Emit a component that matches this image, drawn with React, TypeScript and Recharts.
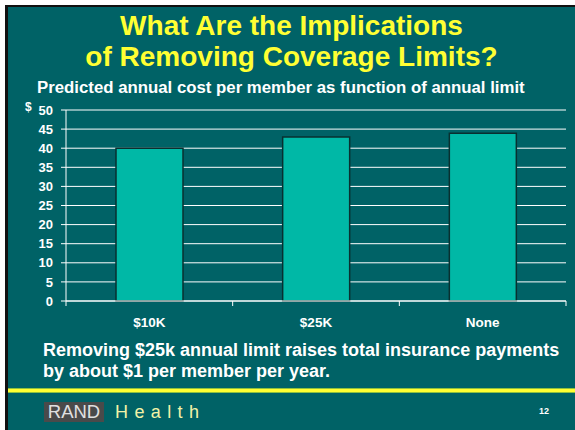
import { BarChart, Bar, XAxis, YAxis, CartesianGrid } from "recharts";

const categories = ["$10K", "$25K", "None"];
const costPerMember = [40, 42.9, 43.9];
const yTicks = [0, 5, 10, 15, 20, 25, 30, 35, 40, 45, 50];

const data = categories.map((limit, i) => ({ limit, cost: costPerMember[i] }));

const TEAL = "#006266";
const BAR = "#00B8A6";
const FONT = '"Liberation Sans", Arial, Helvetica, sans-serif';

const CHART_W = 575;
const CHART_H = 430;
const MARGIN = { top: 110, right: 9, bottom: 99, left: 26 };
const Y_AXIS_W = 40;
const PLOT_W = CHART_W - MARGIN.left - MARGIN.right - Y_AXIS_W;
const TICK_SIZE = 5;
const TICK_GAP = 11;

// labels sit in the middle of each band, tick marks on the band edges
function BandTick(props: any) {
  const { x, y, payload, index } = props;
  const half = PLOT_W / categories.length / 2;
  const top = y - TICK_GAP - TICK_SIZE;
  return (
    <g>
      <line x1={x - half} x2={x - half} y1={top} y2={top + TICK_SIZE} stroke="#fff" strokeWidth={1} />
      {index === categories.length - 1 && (
        <line x1={x + half} x2={x + half} y1={top} y2={top + TICK_SIZE} stroke="#fff" strokeWidth={1} />
      )}
      <text x={x} y={y} dy="0.71em" textAnchor="middle" fill="#fff" fontSize={13.5} fontWeight="bold" fontFamily={FONT}>
        {payload.value}
      </text>
    </g>
  );
}

export default function App() {
  return (
    <div
      style={{
        position: "absolute",
        left: 0,
        top: 0,
        width: 575,
        height: 430,
        background: "#fff",
        overflow: "hidden",
        fontFamily: FONT,
      }}
    >
      <div
        style={{
          position: "absolute",
          left: 5,
          top: 5,
          right: 0,
          bottom: 0,
          background: TEAL,
          borderLeft: "3px solid #111",
          borderTop: "2px solid #111",
        }}
      />

      <div
        style={{
          position: "absolute",
          left: 8,
          width: 567,
          top: 10,
          textAlign: "center",
          color: "#FFFF33",
          fontSize: 28,
          fontWeight: "bold",
          lineHeight: "31px",
        }}
      >
        What Are the Implications
        <br />
        of Removing Coverage Limits?
      </div>

      <div
        style={{
          position: "absolute",
          left: 37,
          top: 79,
          color: "#fff",
          fontSize: 16.8,
          fontWeight: "bold",
          lineHeight: "17px",
          whiteSpace: "nowrap",
        }}
      >
        Predicted annual cost per member as function of annual limit
      </div>

      <div
        style={{
          position: "absolute",
          left: 25,
          top: 101,
          color: "#fff",
          fontSize: 12,
          fontWeight: "bold",
          lineHeight: "12px",
        }}
      >
        $
      </div>

      <div style={{ position: "absolute", left: 0, top: 0 }}>
        <BarChart width={CHART_W} height={CHART_H} data={data} margin={MARGIN} barCategoryGap="30%">
          <CartesianGrid vertical={false} stroke="#fff" strokeWidth={1} />
          <XAxis
            dataKey="limit"
            height={30}
            axisLine={{ stroke: "#fff", strokeWidth: 1 }}
            tickLine={false}
            tickSize={TICK_SIZE}
            tickMargin={TICK_GAP}
            tick={<BandTick />}
            interval={0}
          />
          <YAxis
            width={Y_AXIS_W}
            domain={[0, 50]}
            ticks={yTicks}
            interval={0}
            axisLine={{ stroke: "#fff", strokeWidth: 1 }}
            tickLine={{ stroke: "#fff", strokeWidth: 1 }}
            tickSize={5}
            tickMargin={8}
            tick={{ fill: "#fff", fontSize: 13, fontWeight: "bold", fontFamily: FONT }}
          />
          <Bar dataKey="cost" fill={BAR} stroke="#083030" strokeWidth={1.5} isAnimationActive={false} />
        </BarChart>
      </div>

      <div
        style={{
          position: "absolute",
          left: 43,
          top: 340,
          color: "#fff",
          fontSize: 18,
          fontWeight: "bold",
          lineHeight: "21px",
          whiteSpace: "nowrap",
        }}
      >
        Removing $25k annual limit raises total insurance payments
        <br />
        by about $1 per member per year.
      </div>

      <div
        style={{
          position: "absolute",
          left: 8,
          right: 0,
          top: 388,
          height: 5,
          background: "linear-gradient(#8fbf3f 0, #8fbf3f 1px, #FFFF33 1px, #FFFF33 4px, #8fbf3f 4px)",
        }}
      />

      <div
        style={{
          position: "absolute",
          left: 44,
          top: 402,
          width: 60,
          height: 20,
          background: "#4a4a4a",
          color: "#e0e0e0",
          fontSize: 18.5,
          lineHeight: "20px",
          textAlign: "center",
        }}
      >
        RAND
      </div>
      <div
        style={{
          position: "absolute",
          left: 115,
          top: 402,
          color: "#F2F2A8",
          fontSize: 18,
          lineHeight: "20px",
          letterSpacing: 6.4,
          whiteSpace: "nowrap",
        }}
      >
        Health
      </div>
      <div
        style={{
          position: "absolute",
          left: 539,
          top: 406,
          color: "#fff",
          fontSize: 9,
          fontWeight: "bold",
          lineHeight: "10px",
        }}
      >
        12
      </div>
    </div>
  );
}
